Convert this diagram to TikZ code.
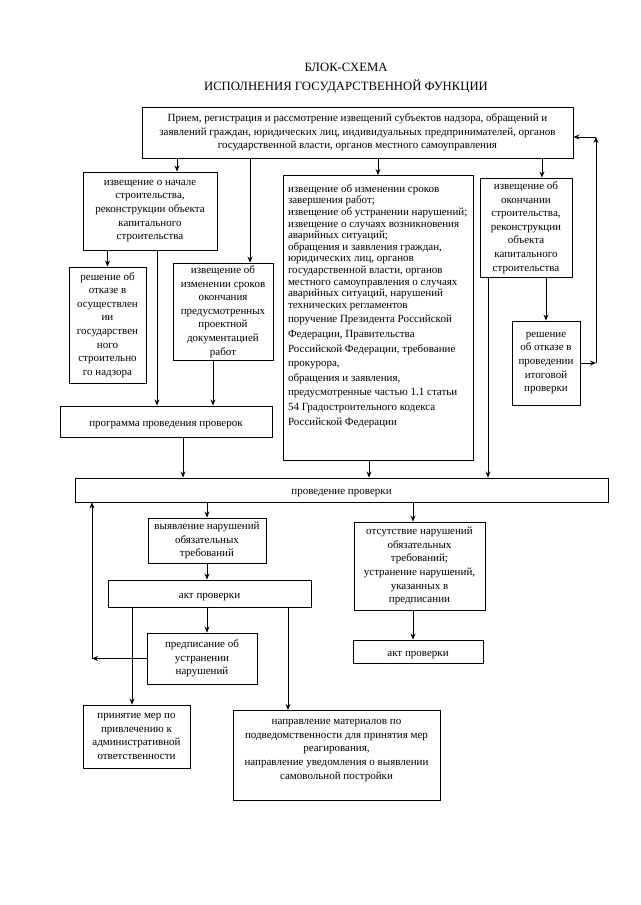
\documentclass[tikz,border=0pt]{standalone}
\usepackage{fontspec}
\setmainfont{Liberation Serif}
\usetikzlibrary{arrows.meta, calc, positioning}

\begin{document}
\begin{tikzpicture}[
    x=1pt, y=-1pt,
    box/.style={rectangle, draw, align=center, line width=0.9pt, inner sep=2pt, font=\fontsize{11}{13.6}\selectfont, execute at begin node={\rule{0pt}{12pt}}},
    arrow/.style={-{Stealth[length=6pt, width=5pt]}, line width=0.8pt}
]
    \useasboundingbox (0,0) rectangle (640,905);

    % заголовок
    \node[align=center, font=\fontsize{12.7}{18.5}\selectfont] (title) at (346,78) {БЛОК-СХЕМА\\ИСПОЛНЕНИЯ ГОСУДАРСТВЕННОЙ ФУНКЦИИ};

    % прием и регистрация
    \node[box, minimum width=431, minimum height=51, execute at begin node={\rule{0pt}{14.5pt}}] (intake) at (357.5,132.5) {Прием, регистрация и рассмотрение извещений субъектов надзора, обращений и\\заявлений граждан, юридических лиц, индивидуальных предпринимателей, органов\\государственной власти, органов местного самоуправления};

    % левая ветвь
    \node[box, minimum width=134, minimum height=78] (startnote) at (150,211) {извещение о начале\\строительства,\\реконструкции объекта\\капитального\\строительства};
    \node[box, minimum width=77, minimum height=116] (refusal) at (107.5,325) {решение об\\отказе в\\осуществлен\\ии\\государствен\\ного\\строительно\\го надзора};
    \node[box, minimum width=100, minimum height=97] (termchange) at (223,311.5) {извещение об\\изменении сроков\\окончания\\предусмотренных\\проектной\\документацией\\работ};
    \node[box, minimum width=212, minimum height=31] (program) at (166,421.5) {программа проведения проверок};

    % средняя ветвь
    \node[box, inner xsep=5pt, inner ysep=9pt, anchor=north] (notices) at (378,175) {\parbox[b][267pt][t]{180pt}{\raggedright\fontsize{11}{11.6}\selectfont
        извещение об изменении сроков\\
        завершения работ;\\
        извещение об устранении нарушений;\\
        извещение о случаях возникновения\\
        аварийных ситуаций;\\
        обращения и заявления граждан,\\
        юридических лиц, органов\\
        государственной власти, органов\\
        местного самоуправления о случаях\\
        аварийных ситуаций, нарушений\\
        технических регламентов\\[3pt]
        поручение Президента Российской\\[3pt]
        Федерации, Правительства\\[3pt]
        Российской Федерации, требование\\[3pt]
        прокурора,\\[3pt]
        обращения и заявления,\\[3pt]
        предусмотренные частью 1.1 статьи\\[3pt]
        54 Градостроительного кодекса\\[3pt]
        Российской Федерации}};

    % правая ветвь
    \node[box, minimum width=92, minimum height=99] (endnote) at (526,227.5) {извещение об\\окончании\\строительства,\\реконструкции\\объекта\\капитального\\строительства};
    \node[box, minimum width=68, minimum height=84] (finalrefusal) at (546,363) {решение\\об отказе в\\проведении\\итоговой\\проверки};

    % проверка
    \node[box, minimum width=533, minimum height=24] (inspection) at (341.5,490) {проведение проверки};
    \node[box, minimum width=118, minimum height=45] (violations) at (207,540.5) {выявление нарушений\\обязательных\\требований};
    \node[box, minimum width=203, minimum height=27] (act1) at (209.5,593.5) {акт проверки};
    \node[box, minimum width=110, minimum height=51] (order) at (202,658.5) {предписание об\\устранении\\нарушений};
    \node[box, minimum width=131, minimum height=88] (noviol) at (419.5,566) {отсутствие нарушений\\обязательных\\требований;\\устранение нарушений,\\указанных в\\предписании};
    \node[box, minimum width=130, minimum height=23] (act2) at (418,651.5) {акт проверки};

    % итоговые меры
    \node[box, minimum width=107, minimum height=63] (liability) at (136.5,736.5) {принятие мер по\\привлечению к\\административной\\ответственности};
    \node[box, inner xsep=4pt, inner ysep=9pt, anchor=north] (referral) at (336.5,710) {\parbox[b][72pt][t]{199pt}{\centering
        направление материалов по\\
        подведомственности для принятия мер\\
        реагирования,\\
        направление уведомления о выявлении\\
        самовольной постройки}};

    % точки ответвления линий
    \coordinate (toStart) at (177,0);
    \coordinate (toTerm) at (250,0);
    \coordinate (toEnd) at (542,0);
    \coordinate (startProg) at (157,0);
    \coordinate (termProg) at (213,0);
    \coordinate (progInsp) at (183,0);
    \coordinate (notInsp) at (369,0);
    \coordinate (endInsp) at (488,0);
    \coordinate (toNoviol) at (413,0);
    \coordinate (toLiab) at (132,0);
    \coordinate (toRef) at (288,0);
    \coordinate (loopL) at (92,658.5);
    \coordinate (loopR) at (596,137);

    % стрелки от приема
    \draw[arrow] (intake.south -| toStart) -- (startnote.north -| toStart);
    \draw[arrow] (intake.south -| toTerm) -- (termchange.north -| toTerm);
    \draw[arrow] (intake.south -| notices.north) -- (notices.north);
    \draw[arrow] (intake.south -| toEnd) -- (endnote.north -| toEnd);

    % стрелки к программе и проверке
    \draw[arrow] (startnote.south -| refusal.north) -- (refusal.north);
    \draw[arrow] (startnote.south -| startProg) -- (program.north -| startProg);
    \draw[arrow] (termchange.south -| termProg) -- (program.north -| termProg);
    \draw[arrow] (program.south -| progInsp) -- (inspection.north -| progInsp);
    \draw[arrow] (notices.south -| notInsp) -- (inspection.north -| notInsp);
    \draw[arrow] (endnote.south -| endInsp) -- (inspection.north -| endInsp);
    \draw[arrow] (endnote.south -| finalrefusal.north) -- (finalrefusal.north);

    % возврат к приему
    \draw[arrow] (finalrefusal.east) -- (finalrefusal.east -| loopR);
    \draw[arrow] (finalrefusal.east -| loopR) -- (loopR);
    \draw[arrow] (loopR) -- (intake.east |- loopR);

    % результаты проверки
    \draw[arrow] (inspection.south -| violations.north) -- (violations.north);
    \draw[arrow] (inspection.south -| toNoviol) -- (noviol.north -| toNoviol);
    \draw[arrow] (violations.south) -- (act1.north -| violations.south);
    \draw[arrow] (act1.south -| violations.south) -- (order.north -| violations.south);
    \draw[arrow] (act1.south -| toLiab) -- (liability.north -| toLiab);
    \draw[arrow] (act1.south -| toRef) -- (referral.north -| toRef);
    \draw[arrow] (noviol.south -| toNoviol) -- (act2.north -| toNoviol);

    % повторная проверка
    \draw[arrow] (order.west) -- (loopL);
    \draw[arrow] (loopL) -- (inspection.south -| loopL);
\end{tikzpicture}
\end{document}
